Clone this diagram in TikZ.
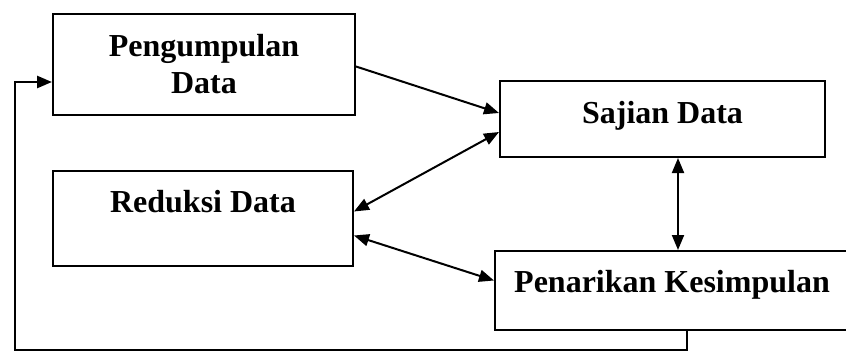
\documentclass[tikz,border=0pt]{standalone}
\usepackage{fontspec}
\setmainfont{Liberation Serif}
\usetikzlibrary{arrows.meta}
\tikzset{
  box/.style={draw, line width=2pt, rectangle, align=center,
    font=\fontsize{32}{37}\selectfont\bfseries, inner sep=0pt},
  flow/.style={line width=2pt, -{Triangle[length=15pt,width=12pt]}},
  both/.style={line width=2pt, {Triangle[length=15pt,width=12pt]}-{Triangle[length=15pt,width=12pt]}},
}
\begin{document}
\begin{tikzpicture}[x=1pt, y=-1pt]
    \useasboundingbox (0,0) rectangle (846,353);
    % boxes
    \node[box, minimum width=302pt, minimum height=101pt] (kumpul) at (204,64.5) {Pengumpulan\\Data};
    \node[box, minimum width=325pt, minimum height=76pt, text depth=14pt] (sajian) at (662.5,119) {Sajian Data};
    \node[box, minimum width=300pt, minimum height=95pt, text depth=35pt] (reduksi) at (203,218.5) {Reduksi Data};
    \node[box, minimum width=354pt, minimum height=79pt, text depth=19pt] (tarik) at (672,290.5) {Penarikan Kesimpulan};
    \coordinate (loop) at (15,350);
    % connectors
    \draw[flow] ([yshift=-2pt]kumpul.east) -- ([yshift=6pt]sajian.west);
    \draw[both] ([yshift=-13pt]sajian.west) -- ([yshift=7pt]reduksi.east);
    \draw[both] ([yshift=-17pt]reduksi.east) -- ([yshift=10pt]tarik.west);
    \draw[both] ([xshift=15.5pt]sajian.south) -- ([xshift=6pt]tarik.north);
    \draw[flow, line width=2.6pt] ([xshift=15pt]tarik.south) |- (loop) |- ([yshift=-17.5pt]kumpul.west);
\end{tikzpicture}
\end{document}
